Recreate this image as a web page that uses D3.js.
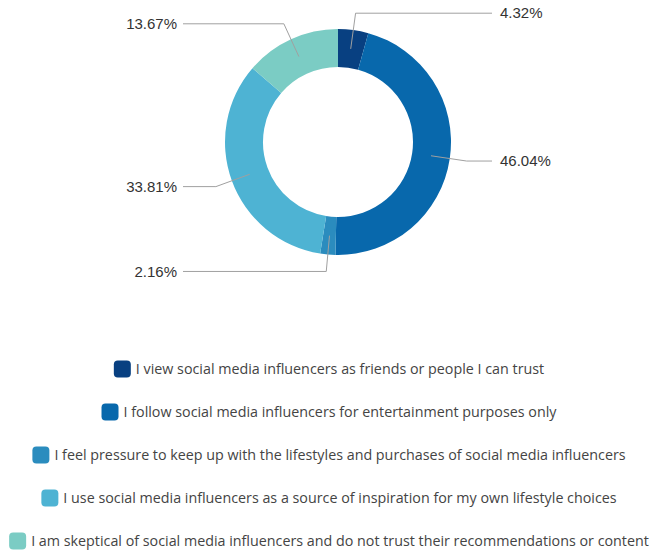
<!DOCTYPE html>
<html>
<head>
<meta charset="utf-8">
<script src="https://cdn.jsdelivr.net/npm/d3@7"></script>
<style>
  body { margin: 0; background: #fff; }
  svg { display: block; }
</style>
</head>
<body>
<svg id="chart" width="650" height="554"></svg>
<script>
// Survey responses: share of respondents per statement
const categories = [
  "I view social media influencers as friends or people I can trust",
  "I follow social media influencers for entertainment purposes only",
  "I feel pressure to keep up with the lifestyles and purchases of social media influencers",
  "I use social media influencers as a source of inspiration for my own lifestyle choices",
  "I am skeptical of social media influencers and do not trust their recommendations or content"
];
const values = [4.32, 46.04, 2.16, 33.81, 13.67];
const colors = ["#084081", "#0868ac", "#2b8cbe", "#4eb3d3", "#7bccc4"];

const svg = d3.select("#chart");
const cx = 338, cy = 142;
const outerR = 113, innerR = 75, midR = 94, elbowR = 130;
const lineRight = 492, lineLeft = 183;

const data = categories.map((c, i) => ({ label: c, value: values[i], color: colors[i] }));

const pie = d3.pie().value(d => d.value).sort(null);
const arcs = pie(data);
const arc = d3.arc().innerRadius(innerR).outerRadius(outerR);

const g = svg.append("g").attr("transform", `translate(${cx},${cy})`);

g.selectAll("path.slice")
  .data(arcs)
  .join("path")
  .attr("class", "slice")
  .attr("d", arc)
  .attr("fill", d => d.data.color);

// Leader lines and percentage labels
const polar = (r, a) => [r * Math.sin(a), -r * Math.cos(a)];
arcs.forEach(d => {
  const a = (d.startAngle + d.endAngle) / 2;
  const p0 = polar(midR, a);
  const p1 = polar(elbowR, a);
  const right = Math.sin(a) >= 0;
  const xEnd = (right ? lineRight : lineLeft) - cx;
  g.append("polyline")
    .attr("points", [p0, p1, [xEnd, p1[1]]].map(p => p.join(",")).join(" "))
    .attr("fill", "none")
    .attr("stroke", "#a0a0a0")
    .attr("stroke-width", 1);
  g.append("text")
    .attr("x", right ? xEnd + 8 : xEnd - 6)
    .attr("y", p1[1])
    .attr("dy", "0.35em")
    .attr("text-anchor", right ? "start" : "end")
    .attr("font-family", "'Liberation Sans', Arial, sans-serif")
    .attr("font-size", 15)
    .attr("fill", "#333")
    .text(d3.format(".2f")(d.data.value) + "%");
});

// Legend: one centred row per category
const legendTop = 369, legendStep = 43, sw = 17, gap = 5, legendCenter = 329;
data.forEach((d, i) => {
  const row = svg.append("g");
  const y = legendTop + i * legendStep;
  const t = row.append("text")
    .attr("y", y)
    .attr("dy", "0.35em")
    .attr("font-family", "'Open Sans', sans-serif")
    .attr("font-size", 14.3)
    .attr("fill", "#444")
    .text(d.label);
  const w = t.node().getComputedTextLength();
  const total = sw + gap + w;
  const x0 = legendCenter - total / 2;
  t.attr("x", x0 + sw + gap);
  row.append("rect")
    .attr("x", x0).attr("y", y - sw / 2)
    .attr("width", sw).attr("height", sw)
    .attr("rx", 4)
    .attr("fill", d.color);
});
</script>
</body>
</html>
